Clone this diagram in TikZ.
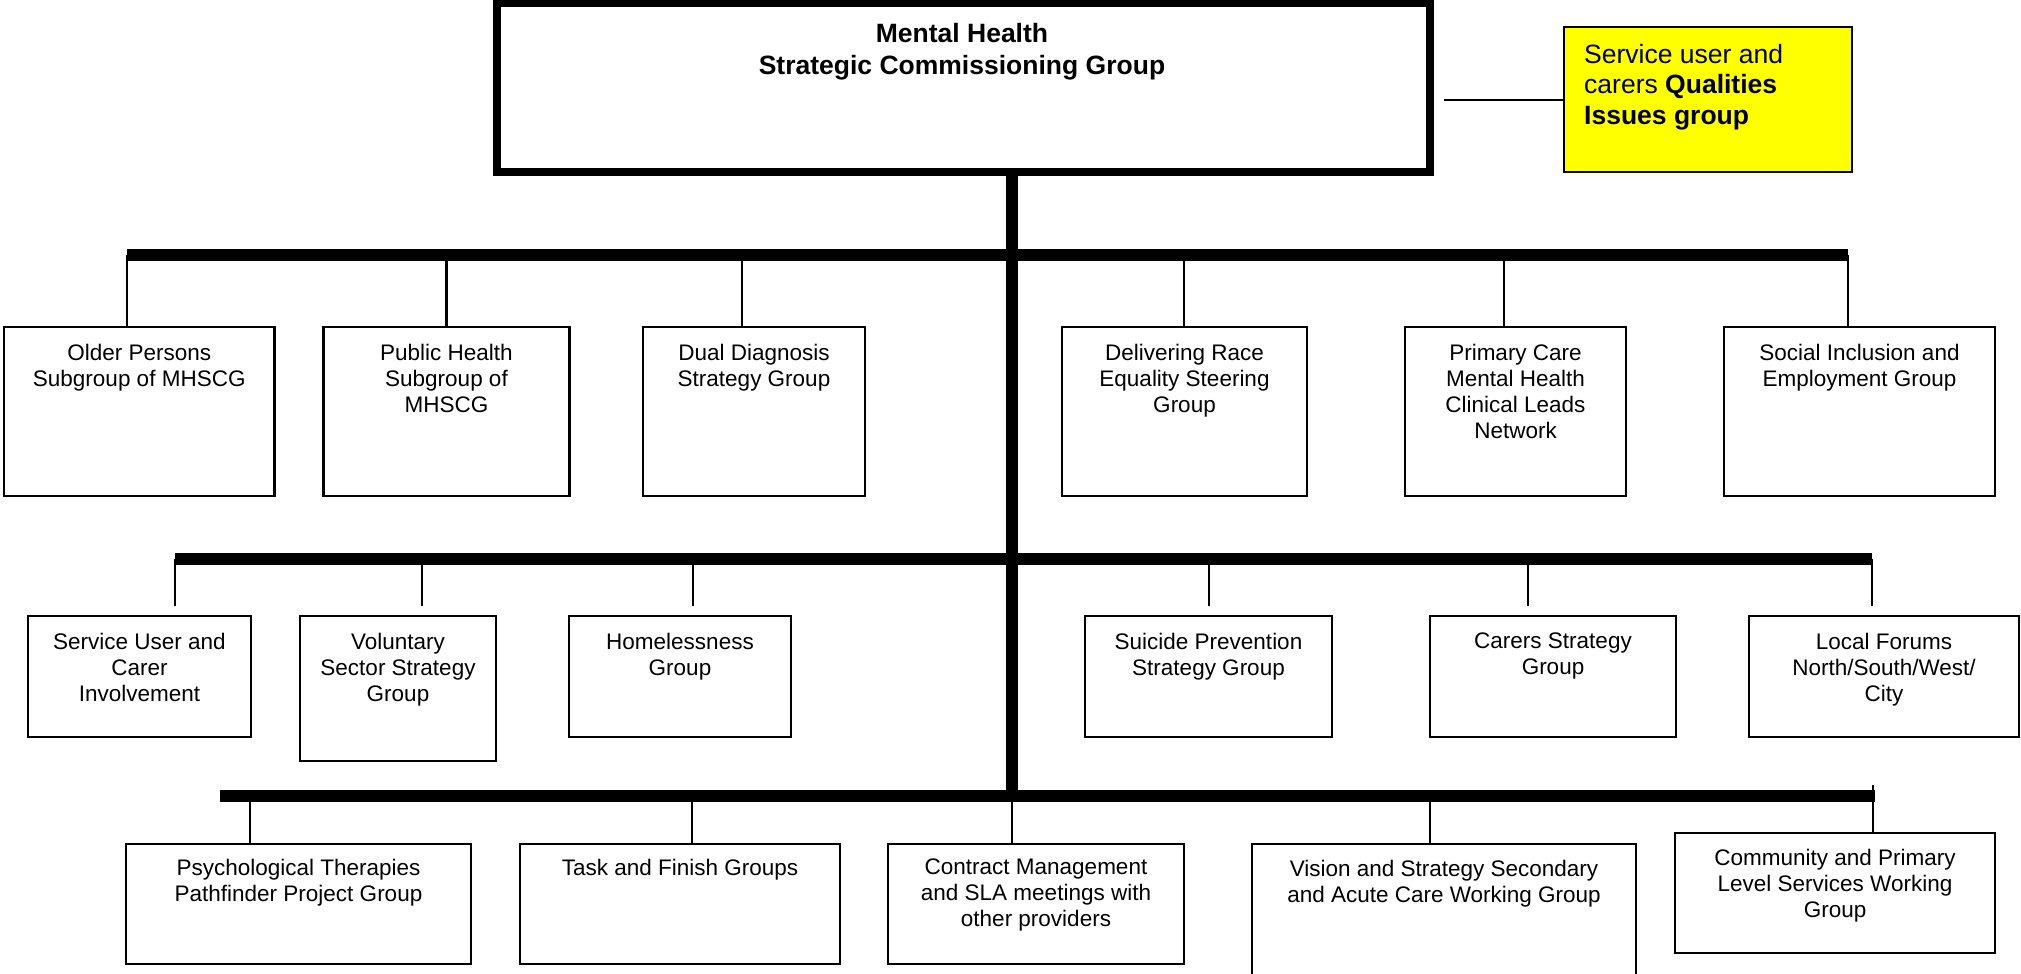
\documentclass[tikz,border=0pt]{standalone}
\usepackage{fontspec}
\setmainfont{Liberation Sans}
\definecolor{qyellow}{RGB}{255,255,0}
\begin{document}
\begin{tikzpicture}[x=1pt,y=-1pt,
  gbox/.style={draw=black, line width=2.2pt, rectangle, inner sep=0pt, fill=white},
  lbl/.style={anchor=north, align=center, inner sep=0pt, font=\fontsize{22.5}{26}\selectfont},
  thinline/.style={line width=2.2pt},
  barline/.style={line width=12pt},
  trunkline/.style={line width=12pt}]
\useasboundingbox (0,0) rectangle (2021,974);
\clip (0,0) rectangle (2021,974);

% ---------- top ----------
\node[draw=black, line width=8pt, fill=white, inner sep=0pt, minimum width=933pt, minimum height=168.5pt] (main) at (963,87.75) {};
\node[anchor=north, align=center, inner sep=0pt, font=\bfseries\fontsize{26.5}{32}\selectfont] (maint) at (962,23) {Mental Health\\Strategic Commissioning Group};

\node[draw=black, line width=2.2pt, fill=qyellow, inner sep=0pt, minimum width=288pt, minimum height=144.5pt] (yq) at (1708,99.5) {};
\node[anchor=north west, align=left, inner sep=0pt, font=\fontsize{26.5}{30.5}\selectfont] (yqt) at (1584,44) {Service user and\\carers \textbf{Qualities}\\\textbf{Issues group}};
\coordinate (yc) at (1444,100);
\draw[thinline] (yc) -- (yc -| yq.west);

% ---------- trunk and bars ----------
\coordinate (tt) at (1012,176);
\coordinate (tb) at (1012,802);
\draw[trunkline] (tt) -- (tb);

\coordinate (b1l) at (127,255);  \coordinate (b1r) at (1848,255);
\coordinate (b2l) at (175,558.5); \coordinate (b2r) at (1872,558.5);
\coordinate (b3l) at (220,796);  \coordinate (b3r) at (1875,796);

% ---------- row 1 ----------
\node[gbox, minimum width=270.5pt, minimum height=169pt] (op) at (139.25,411.5) {};
\node[gbox, minimum width=246pt, minimum height=169pt] (ph) at (446.5,411.5) {};
\node[gbox, minimum width=222pt, minimum height=169pt] (dd) at (754,411.5) {};
\node[gbox, minimum width=245pt, minimum height=169pt] (dr) at (1184.5,411.5) {};
\node[gbox, minimum width=221pt, minimum height=169pt] (pc) at (1515.5,411.5) {};
\node[gbox, minimum width=271pt, minimum height=169pt] (si) at (1859.5,411.5) {};

\node[lbl] (opt) at ([yshift=-18pt]op.north) {Older Persons\\Subgroup of MHSCG};
\node[lbl] (pht) at ([yshift=-18pt]ph.north) {Public Health\\Subgroup of\\MHSCG};
\node[lbl] (ddt) at ([yshift=-18pt]dd.north) {Dual Diagnosis\\Strategy Group};
\node[lbl] (drt) at ([yshift=-18pt]dr.north) {Delivering Race\\Equality Steering\\Group};
\node[lbl] (pct) at ([yshift=-18pt]pc.north) {Primary Care\\Mental Health\\Clinical Leads\\Network};
\node[lbl] (sit) at ([yshift=-18pt]si.north) {Social Inclusion and\\Employment Group};

\draw[barline] (b1l) -- (b1r);
\foreach \n/\x in {op/127, ph/446.5, dd/741.6, dr/1184, pc/1504, si/1848}{
  \coordinate (d\n) at (\x,255);
  \draw[thinline] (d\n) -- (d\n |- \n.north);
}

% ---------- row 2 ----------
\node[gbox, minimum width=223pt, minimum height=121pt] (su) at (139.5,676.5) {};
\node[gbox, minimum width=196pt, minimum height=145pt] (vs) at (398,688.5) {};
\node[gbox, minimum width=222pt, minimum height=121pt] (hg) at (680,676.5) {};
\node[gbox, minimum width=247pt, minimum height=121pt] (sp) at (1208.5,676.5) {};
\node[gbox, minimum width=246pt, minimum height=121pt] (cs) at (1553,676.5) {};
\node[gbox, minimum width=270pt, minimum height=121pt] (lf) at (1884,676.5) {};

\node[lbl] (sut) at ([yshift=-18pt]su.north) {Service User and\\Carer\\Involvement};
\node[lbl] (vst) at ([yshift=-18pt]vs.north) {Voluntary\\Sector Strategy\\Group};
\node[lbl] (hgt) at ([yshift=-18pt]hg.north) {Homelessness\\Group};
\node[lbl] (spt) at ([yshift=-18pt]sp.north) {Suicide Prevention\\Strategy Group};
\node[lbl] (cst) at ([yshift=-18pt]cs.north) {Carers Strategy\\Group};
\node[lbl] (lft) at ([yshift=-18pt]lf.north) {Local Forums\\North/South/West/\\City};

\draw[barline] (b2l) -- (b2r);
\foreach \n/\x in {su/175, vs/422, hg/692.6, sp/1208.6, cs/1528, lf/1872}{
  \coordinate (d\n) at (\x,558.5);
  \draw[thinline] (d\n) -- ([yshift=9pt]d\n |- \n.north);
}

% ---------- row 3 ----------
\node[gbox, minimum width=345pt, minimum height=120pt] (pt) at (298.5,904) {};
\node[gbox, minimum width=320pt, minimum height=120pt] (tf) at (680,904) {};
\node[gbox, minimum width=296pt, minimum height=120pt] (cm) at (1036,904) {};
\node[gbox, minimum width=384pt, minimum height=156pt] (vi) at (1444,922) {};
\node[gbox, minimum width=320pt, minimum height=120pt] (cp) at (1835,893) {};

\node[lbl] (ptt) at ([yshift=-16pt]pt.north) {Psychological Therapies\\Pathfinder Project Group};
\node[lbl] (tft) at ([yshift=-16pt]tf.north) {Task and Finish Groups};
\node[lbl] (cmt) at ([yshift=-16pt]cm.north) {Contract Management\\and SLA meetings with\\other providers};
\node[lbl] (vit) at ([yshift=-17pt]vi.north) {Vision and Strategy Secondary\\and Acute Care Working Group};
\node[lbl] (cpt) at ([yshift=-17pt]cp.north) {Community and Primary\\Level Services Working\\Group};

\draw[barline] (b3l) -- (b3r);
\foreach \n/\x in {pt/250, tf/692, cm/1012, vi/1430}{
  \coordinate (d\n) at (\x,796);
  \draw[thinline] (d\n) -- (d\n |- \n.north);
}
\coordinate (dcp) at (1873,785);
\draw[thinline] (dcp) -- (dcp |- cp.north);

\end{tikzpicture}
\end{document}
